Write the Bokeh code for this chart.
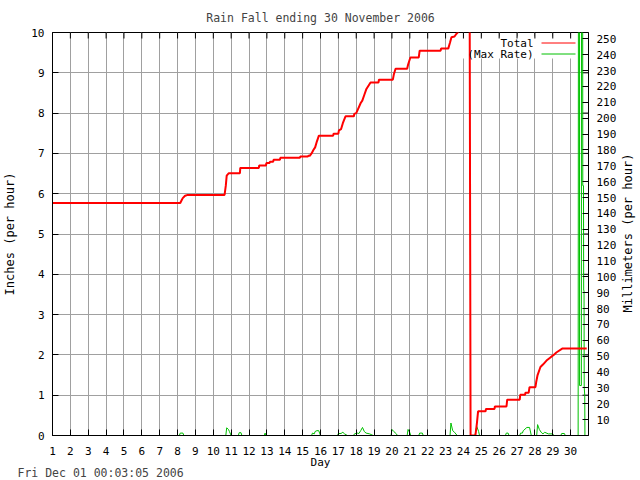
import math
from bokeh.plotting import figure
from bokeh.models import (Range1d, LinearAxis, FixedTicker, Label, BoxAnnotation,
                          ColumnDataSource, Title)
from bokeh.embed import file_html
from bokeh.resources import INLINE

# ---------------- data ----------------
title_text = "Rain Fall ending 30 November 2006"
stamp_text = "Fri Dec 01 00:03:05 2006"
x_label = "Day"
left_label = "Inches (per hour)"
right_label = "Millimeters (per hour)"
legend_labels = ["Total", "(Max Rate)"]
day_ticks = list(range(1, 31))
inch_ticks = list(range(0, 11))
mm_ticks = list(range(10, 260, 10))

# cumulative total (inches) vs day of month
total_day = [1.0, 8.15, 8.22, 8.29, 8.42, 8.57, 10.63, 10.7, 10.75, 10.87, 11.49, 11.51,
             12.55, 12.57, 12.95, 12.97, 13.15, 13.17, 13.35, 13.37, 13.73, 13.75, 14.85, 14.87,
             15.29, 15.31, 15.4, 15.5, 15.61, 15.7, 15.8, 15.91, 16.71, 16.73, 17.0,
             17.03, 17.15, 17.25, 17.4, 17.87, 17.89, 18.0, 18.1, 18.25, 18.34, 18.45, 18.57,
             18.8, 19.25, 19.27, 20.05, 20.1, 20.2, 20.85, 20.9, 21.03, 21.5, 21.55, 22.72,
             22.75, 23.15, 23.25, 23.33, 23.5, 23.61, 23.78, 24.0, 24.35, 24.4, 24.67, 24.75,
             24.82, 25.24, 25.26, 25.74, 25.76, 26.41, 26.45, 27.15, 27.18, 27.45, 27.47, 27.65,
             27.7, 28.03, 28.07, 28.15, 28.31, 28.45, 28.65, 28.85, 29.05, 29.2, 29.55, 30.9]
total_in = [5.77, 5.77, 5.83, 5.89, 5.95, 5.97, 5.97, 6.2, 6.45, 6.51, 6.51, 6.64,
            6.64, 6.70, 6.70, 6.76, 6.76, 6.79, 6.79, 6.84, 6.84, 6.89, 6.89, 6.92,
            6.92, 6.94, 6.94, 7.0, 7.09, 7.15, 7.3, 7.44, 7.44, 7.49, 7.49,
            7.57, 7.6, 7.75, 7.92, 7.92, 7.98, 8.0, 8.1, 8.25, 8.31, 8.45, 8.6,
            8.76, 8.76, 8.83, 8.83, 8.95, 9.1, 9.1, 9.2, 9.38, 9.38, 9.55, 9.55,
            9.6, 9.6, 9.75, 9.88, 9.9, 9.97, 10.05, 10.3, 10.4, 0.0, 0.0, 0.29,
            0.60, 0.60, 0.66, 0.66, 0.72, 0.72, 0.89, 0.89, 1.01, 1.01, 1.06, 1.06,
            1.2, 1.2, 1.32, 1.5, 1.70, 1.76, 1.86, 1.93, 2.0, 2.06, 2.16, 2.16]

# maximum rate (inches per hour) vs day of month
rate_day = [1.0, 8.1, 8.15, 8.3, 8.35, 10.7, 10.75, 10.85, 10.9, 11.0, 11.4, 11.45, 11.55,
            11.6, 12.85, 12.9, 12.95, 15.5, 15.55, 15.65, 15.7, 15.8, 15.9, 15.95, 16.0,
            16.95, 17.0, 17.15, 17.25, 17.35, 17.5, 17.85, 17.9, 18.05, 18.15, 18.25, 18.35,
            18.45, 18.55, 18.75, 18.95, 19.95, 20.0, 20.1, 20.25, 20.3, 20.85, 20.9, 21.0,
            21.05, 21.5, 21.55, 21.7, 21.75, 23.25, 23.3, 23.4, 23.5, 23.65, 24.65, 24.7,
            24.75, 24.85, 24.9, 26.35, 26.4, 26.5, 26.55, 27.15, 27.2, 27.3, 27.35, 27.55,
            27.7, 27.8, 28.1, 28.15, 28.25, 28.35, 28.45, 28.55, 28.75, 29.0, 29.05, 29.45,
            29.5, 29.65, 29.7, 30.42, 30.44, 30.49, 30.5, 30.6, 30.61, 30.67, 30.68,
            30.72, 30.73, 30.75, 30.76, 30.79, 30.8, 31.0]
rate_in = [0, 0, 0.06, 0.06, 0, 0, 0.19, 0.15, 0.1, 0, 0, 0.07, 0.07,
           0, 0, 0.06, 0, 0, 0.06, 0.04, 0.1, 0.12, 0.12, 0.06, 0,
           0, 0.05, 0.05, 0.08, 0.04, 0, 0, 0.04, 0.06, 0.05, 0.12, 0.2,
           0.1, 0.06, 0.04, 0, 0, 0.15, 0.1, 0.04, 0, 0, 0.15, 0.07,
           0, 0, 0.06, 0.06, 0, 0, 0.31, 0.12, 0.08, 0, 0, 0.15,
           0.22, 0.1, 0, 0, 0.06, 0.06, 0, 0, 0.06, 0.06, 0.12, 0.2,
           0.2, 0, 0, 0.27, 0.15, 0.08, 0.04, 0.08, 0.04, 0.04, 0, 0,
           0.05, 0.05, 0, 0, 14, 14, 1.24, 1.24, 14, 14, 6.2,
           6.2, 3.6, 3.6, 1.2, 1.0, 0, 0]

# ---------------- styling ----------------
FONT = "DejaVu Sans Mono"
RED = "#ff0000"
GREEN = "#00c000"
GRID = "#a0a0a0"

W, H = 640, 480
FX0, FX1, FY0, FY1 = 52, 588, 32, 435   # frame edges in page pixels
p = figure(frame_width=FX1 - FX0, frame_height=FY1 - FY0, output_backend="svg",
           toolbar_location=None, title=title_text,
           x_range=Range1d(1, 31), y_range=Range1d(0, 10),
           min_border_left=FX0, min_border_right=W - FX1, min_border_top=FY0,
           min_border_bottom=H - FY1)
p.background_fill_color = "white"
p.border_fill_color = "white"
p.outline_line_color = "black"
p.outline_line_width = 1

p.title.text_font = FONT
p.title.text_font_size = "11.5px"
p.title.text_font_style = "normal"
p.title.align = "center"
p.title.standoff = 15

px_day = (FX1 - FX0) / 30.0
px_in = (FY1 - FY0) / 10.0

def dx(px):
    return 1 + (px - FX0) / px_day
def dy(py):
    return (FY1 - py) / px_in

def style_axis(ax, standoff):
    ax.major_tick_in = 6
    ax.major_tick_out = 0
    ax.minor_tick_in = 0
    ax.minor_tick_out = 0
    ax.major_label_standoff = standoff
    ax.major_label_text_font = FONT
    ax.major_label_text_font_size = "11px"
    ax.major_label_text_color = "black"
    ax.axis_line_color = "black"
    ax.major_tick_line_color = "black"
    ax.axis_label_text_font = FONT
    ax.axis_label_text_font_size = "12px"
    ax.axis_label_text_font_style = "normal"
    ax.axis_label_text_color = "black"

for ax in p.xaxis:
    ax.ticker = FixedTicker(ticks=day_ticks)
    style_axis(ax, 11)
    ax.axis_label = x_label
    ax.axis_label_text_font_size = "11px"
    ax.axis_label_standoff = 0
    try:
        ax.axis_label_standoff = -2
    except Exception:
        pass
for ax in p.yaxis:
    ax.ticker = FixedTicker(ticks=inch_ticks)
    style_axis(ax, 8)
    ax.axis_label = left_label
    ax.axis_label_standoff = 11

mm_max = 254
p.extra_y_ranges = {"mm": Range1d(0, mm_max)}
rax = LinearAxis(y_range_name="mm", ticker=FixedTicker(ticks=mm_ticks))
style_axis(rax, 8)
p.add_layout(rax, "right")

# right-hand title drawn as a single rotated tick label, reading upward from ~y=312
label_start_mm = (FY1 - 312) / px_in * 25.4
rlab = LinearAxis(y_range_name="mm", ticker=FixedTicker(ticks=[label_start_mm]),
                  major_label_overrides={label_start_mm: right_label})
style_axis(rlab, 8)
rlab.major_label_text_font_size = "12px"
rlab.major_label_orientation = math.pi / 2
rlab.axis_line_color = None
rlab.major_tick_line_color = None
p.add_layout(rlab, "right")

stamp = Title(text=stamp_text, align="left", offset=17 - FX0, standoff=0,
              text_font=FONT, text_font_size="11.5px", text_font_style="normal")
try:
    stamp.standoff = -16
except Exception:
    pass
p.add_layout(stamp, "below")

p.xgrid.ticker = FixedTicker(ticks=day_ticks)
p.ygrid.ticker = FixedTicker(ticks=inch_ticks)
p.xgrid.grid_line_color = GRID
p.ygrid.grid_line_color = GRID
p.xgrid.grid_line_width = 1
p.ygrid.grid_line_width = 1

# mirrored ticks: days along the top, inches along the right
tick_len_y = 6 / px_in
tick_len_x = 6 / px_day
top_src = ColumnDataSource(dict(x=day_ticks, y0=[10] * len(day_ticks),
                                y1=[10 - tick_len_y] * len(day_ticks)))
p.segment(x0="x", y0="y0", x1="x", y1="y1", source=top_src, line_color="black",
          line_width=1)
rin = inch_ticks[1:-1]
rgt_src = ColumnDataSource(dict(y=rin, x0=[31] * len(rin), x1=[31 - tick_len_x] * len(rin)))
p.segment(x0="x0", y0="y", x1="x1", y1="y", source=rgt_src, line_color="black",
          line_width=1)

# legend background (drawn under the data like the original)
box = BoxAnnotation(left=dx(462), right=dx(577), top=dy(36), bottom=dy(58),
                    fill_color="white", fill_alpha=1.0, line_color=None, level="underlay")
p.add_layout(box)

# data
p.line(rate_day, rate_in, line_color=GREEN, line_width=1)
p.line(total_day, total_in, line_color=RED, line_width=2)

# manual legend (text left, sample line right)
leg_y = [42.5, 53.5]
leg = ColumnDataSource(dict(x0=[dx(541)] * 2, x1=[dx(575)] * 2,
                            y=[dy(v) for v in leg_y], c=[RED, GREEN]))
p.segment(x0="x0", y0="y", x1="x1", y1="y", line_color="c", line_width=1, source=leg)
for txt, yy in zip(legend_labels, leg_y):
    p.add_layout(Label(x=dx(533), y=dy(yy), text=txt, text_align="right",
                       text_baseline="middle", text_font=FONT, text_font_size="11px",
                       text_color="black"))

open("out.html", "w").write(file_html(p, INLINE))
